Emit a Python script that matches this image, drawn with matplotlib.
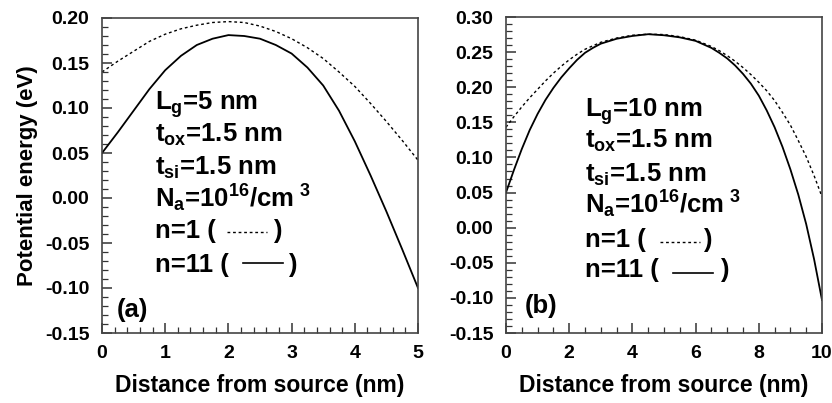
import matplotlib

matplotlib.use("Agg")
import matplotlib.pyplot as plt
from matplotlib.ticker import MultipleLocator, FormatStrFormatter

plt.rcParams["font.family"] = "Liberation Sans"
plt.rcParams["font.weight"] = "bold"
plt.rcParams["axes.labelweight"] = "bold"
plt.rcParams["axes.unicode_minus"] = False
plt.rcParams["mathtext.fontset"] = "custom"
plt.rcParams["mathtext.rm"] = "Liberation Sans:bold"
plt.rcParams["mathtext.it"] = "Liberation Sans:bold"
plt.rcParams["mathtext.bf"] = "Liberation Sans:bold"

# panel (a): Lg = 5 nm
x_a = [0, 0.25, 0.5, 0.75, 1.0, 1.25, 1.5, 1.75, 2.0, 2.25, 2.5,
       2.75, 3.0, 3.25, 3.5, 3.75, 4.0, 4.25, 4.5, 4.75, 5.0]
n1_a = [0.140, 0.152, 0.163, 0.174, 0.182, 0.188, 0.192, 0.195, 0.196, 0.195, 0.191,
        0.185, 0.177, 0.167, 0.155, 0.140, 0.124, 0.105, 0.085, 0.064, 0.042]
n11_a = [0.050, 0.073, 0.097, 0.121, 0.142, 0.158, 0.170, 0.177, 0.181, 0.180, 0.177,
         0.170, 0.1605, 0.145, 0.125, 0.097, 0.063, 0.025, -0.015, -0.057, -0.100]

# panel (b): Lg = 10 nm
x_b = [0, 0.25, 0.5, 0.75, 1.0, 1.25, 1.5, 1.75, 2.0, 2.25, 2.5, 2.75, 3.0, 3.5, 4.0, 4.5, 5.0,
       5.5, 6.0, 6.5, 6.75, 7.0, 7.25, 7.5, 7.75, 8.0, 8.25, 8.5, 8.75, 9.0, 9.25, 9.5, 9.75, 10.0]
n1_b = [0.143, 0.158, 0.172, 0.185, 0.197, 0.209, 0.220, 0.230, 0.239, 0.247, 0.254, 0.259, 0.264,
        0.270, 0.274, 0.2755, 0.275, 0.272, 0.267, 0.258, 0.252, 0.245, 0.237, 0.228, 0.218, 0.207,
        0.195, 0.181, 0.164, 0.146, 0.124, 0.101, 0.074, 0.044]
n11_b = [0.050, 0.082, 0.112, 0.139, 0.162, 0.182, 0.199, 0.214, 0.227, 0.239, 0.249, 0.256, 0.262,
         0.269, 0.273, 0.2755, 0.274, 0.271, 0.266, 0.256, 0.249, 0.241, 0.231, 0.219, 0.205, 0.188,
         0.167, 0.143, 0.115, 0.083, 0.047, 0.005, -0.045, -0.103]

text_a = ["L$_\\mathrm{g}$=5 nm", "t$_\\mathrm{ox}$=1.5 nm", "t$_\\mathrm{si}$=1.5 nm",
          "N$_\\mathrm{a}$=10$^\\mathrm{16}$/cm$^\\mathrm{\\ 3}$", "n=1 (", "n=11 ("]
text_b = ["L$_\\mathrm{g}$=10 nm", "t$_\\mathrm{ox}$=1.5 nm", "t$_\\mathrm{si}$=1.5 nm",
          "N$_\\mathrm{a}$=10$^\\mathrm{16}$/cm$^\\mathrm{\\ 3}$", "n=1 (", "n=11 ("]

fig = plt.figure(figsize=(8.32, 4.03), dpi=100)
ax1 = fig.add_axes([102 / 832, 70 / 403, 316 / 832, 315 / 403])
ax2 = fig.add_axes([506 / 832, 70 / 403, 316 / 832, 316 / 403])

DOT = (0, (2.0, 2.0))
FS = 18.5


def style_axes(ax, xmax, xmajor, xminor, ymin, ymax):
    ax.set_xlim(0, xmax)
    ax.set_ylim(ymin, ymax)
    ax.xaxis.set_major_locator(MultipleLocator(xmajor))
    ax.xaxis.set_minor_locator(MultipleLocator(xminor))
    ax.yaxis.set_major_locator(MultipleLocator(0.05))
    ax.yaxis.set_minor_locator(MultipleLocator(0.01))
    ax.yaxis.set_major_formatter(FormatStrFormatter("%.2f"))
    ax.xaxis.set_major_formatter(FormatStrFormatter("%d"))
    ax.tick_params(which="both", direction="in", top=False, right=False,
                   labelsize=14, color="#333333")
    ax.tick_params(axis="x", which="both", pad=9)
    ax.tick_params(axis="y", which="both", pad=9)
    ax.tick_params(which="major", length=7, width=1.1)
    ax.tick_params(which="minor", length=4, width=0.9)
    for sp in ax.spines.values():
        sp.set_linewidth(1.2)
        sp.set_color("#444444")
    ax.set_xlabel("Distance from source (nm)", fontsize=16.5, labelpad=8)


def annotate(ax, lines, x0, ys, dot_seg, solid_seg, parens, tag, tag_xy):
    for s, y in zip(lines, ys):
        ax.text(x0, y, s, transform=ax.transAxes, fontsize=FS, va="baseline")
    ax.plot(dot_seg[:2], [dot_seg[2]] * 2, transform=ax.transAxes,
            color="black", lw=1.0, linestyle=DOT)
    ax.plot(solid_seg[:2], [solid_seg[2]] * 2, transform=ax.transAxes,
            color="black", lw=1.2)
    ax.text(parens[0], ys[4], ")", transform=ax.transAxes, fontsize=FS, va="baseline")
    ax.text(parens[1], ys[5], ")", transform=ax.transAxes, fontsize=FS, va="baseline")
    ax.text(tag_xy[0], tag_xy[1], tag, transform=ax.transAxes, fontsize=FS, va="baseline")


ax1.plot(x_a, n1_a, color="black", lw=1.0, linestyle=DOT)
ax1.plot(x_a, n11_a, color="black", lw=1.3)
style_axes(ax1, 5, 1, 0.2, -0.15, 0.20)
ax1.set_ylabel("Potential energy (eV)", fontsize=16, labelpad=5)
annotate(ax1, text_a, 0.168, [0.708, 0.606, 0.502, 0.400, 0.302, 0.194],
         (0.396, 0.522, 0.321), (0.446, 0.573, 0.222), (0.541, 0.589),
         "(a)", (0.047, 0.051))

ax2.plot(x_b, n1_b, color="black", lw=1.0, linestyle=DOT)
ax2.plot(x_b, n11_b, color="black", lw=1.3)
style_axes(ax2, 10, 2, 0.5, -0.15, 0.30)
annotate(ax2, text_b, 0.25, [0.684, 0.585, 0.478, 0.380, 0.272, 0.177],
         (0.487, 0.614, 0.289), (0.528, 0.655, 0.190), (0.623, 0.677),
         "(b)", (0.06, 0.063))

fig.savefig("out.png", dpi=100)
